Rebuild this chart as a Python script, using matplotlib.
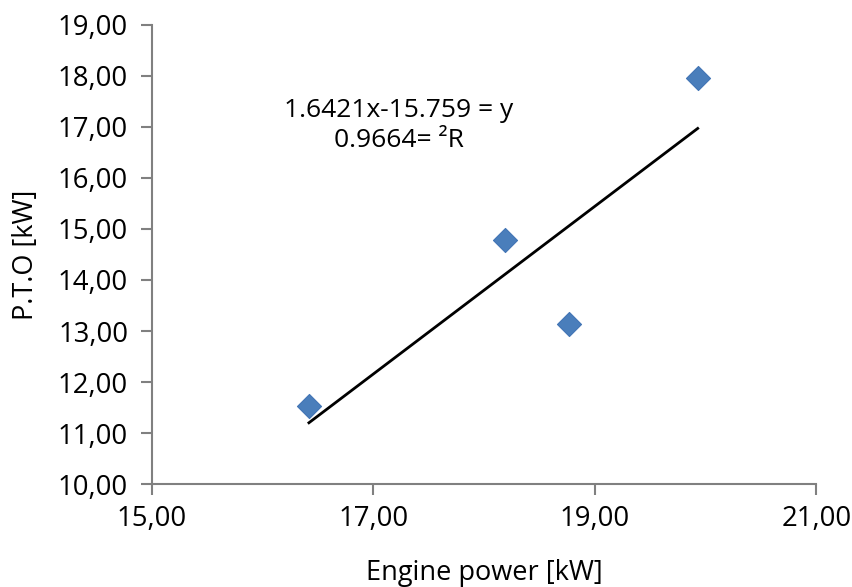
import matplotlib
matplotlib.use("Agg")
import matplotlib.pyplot as plt
import numpy as np
from matplotlib.ticker import FuncFormatter

plt.rcParams['font.family'] = ['Open Sans', 'DejaVu Sans']

engine_power = [16.42, 18.19, 18.77, 19.93]
pto = [11.54, 14.79, 13.14, 17.95]
slope, intercept = 1.6421, -15.759
eq_text = "1.6421x-15.759 = y\n0.9664= ²R"
x_ticks = [15, 17, 19, 21]
y_ticks = list(range(10, 20))

fig = plt.figure(figsize=(8.52, 5.87), dpi=100)
ax = fig.add_axes([0.178, 0.175, 0.78, 0.783])

ax.scatter(engine_power, pto, marker='D', s=150, color='#4a7ebb',
           edgecolors='#4275b5', linewidths=0.8, zorder=3)
xs = np.array([min(engine_power), max(engine_power)])
ax.plot(xs, slope * xs + intercept, color='black', lw=2.0, zorder=2)

ax.set_xlim(15, 21)
ax.set_ylim(10, 19)
ax.set_xticks(x_ticks)
ax.set_yticks(y_ticks)
fmt = FuncFormatter(lambda v, p: f"{v:.2f}".replace('.', ','))
ax.xaxis.set_major_formatter(fmt)
ax.yaxis.set_major_formatter(fmt)

for s in ['top', 'right']:
    ax.spines[s].set_visible(False)
for s in ['left', 'bottom']:
    ax.spines[s].set_color('#808080')
    ax.spines[s].set_linewidth(1.5)
ax.tick_params(axis='both', colors='#808080', width=1.5, length=8,
               labelsize=19.8, labelcolor='black', direction='out')
ax.tick_params(axis='x', pad=7)
ax.tick_params(axis='y', pad=9)

ax.set_xlabel("Engine power [kW]", fontsize=19.5, labelpad=19)
ax.set_ylabel("P.T.O [kW]", fontsize=19.5, labelpad=13)

ax.text(17.23, 17.03, eq_text, fontsize=19, ha='center', va='center',
        linespacing=1.25)

fig.savefig("out.png", dpi=100)
